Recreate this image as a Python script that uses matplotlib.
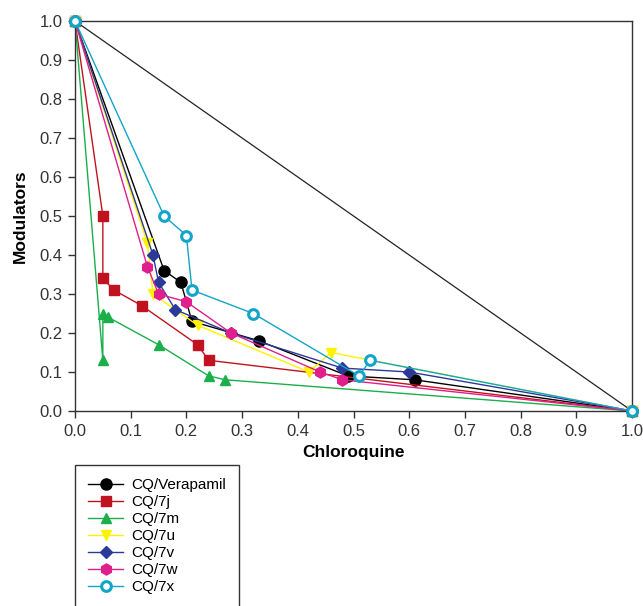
import matplotlib
matplotlib.use("Agg")
from matplotlib import pyplot as plt

plt.rcParams['font.family'] = ['Liberation Sans', 'DejaVu Sans']

# isobologram data (fractional inhibitory concentrations)
names = ["CQ/Verapamil", "CQ/7j", "CQ/7m", "CQ/7u", "CQ/7v", "CQ/7w", "CQ/7x"]

verapamil_x = [0, 0.16, 0.19, 0.21, 0.33, 0.49, 0.61, 1]
verapamil_y = [1, 0.36, 0.33, 0.23, 0.18, 0.09, 0.08, 0]

c7j_x = [0, 0.05, 0.05, 0.07, 0.12, 0.22, 0.24, 1]
c7j_y = [1, 0.50, 0.34, 0.31, 0.27, 0.17, 0.13, 0]

c7m_x = [0, 0.05, 0.05, 0.06, 0.15, 0.24, 0.27, 1]
c7m_y = [1, 0.13, 0.25, 0.24, 0.17, 0.09, 0.08, 0]

c7u_x = [0, 0.13, 0.14, 0.22, 0.42, 0.46, 1]
c7u_y = [1, 0.43, 0.30, 0.22, 0.10, 0.15, 0]

c7v_x = [0, 0.14, 0.15, 0.18, 0.28, 0.48, 0.60, 1]
c7v_y = [1, 0.40, 0.33, 0.26, 0.20, 0.11, 0.10, 0]

c7w_x = [0, 0.13, 0.15, 0.20, 0.28, 0.44, 0.48, 1]
c7w_y = [1, 0.37, 0.30, 0.28, 0.20, 0.10, 0.08, 0]

c7x_x = [0, 0.16, 0.20, 0.21, 0.32, 0.51, 0.53, 1]
c7x_y = [1, 0.50, 0.45, 0.31, 0.25, 0.09, 0.13, 0]

series = [(verapamil_x, verapamil_y), (c7j_x, c7j_y), (c7m_x, c7m_y),
          (c7u_x, c7u_y), (c7v_x, c7v_y), (c7w_x, c7w_y), (c7x_x, c7x_y)]
colors = ["#000000", "#c0131f", "#1aaf4b", "#fff200", "#2b3a98", "#e01e8c", "#12a5c9"]
markers = ["o", "s", "^", "v", "D", "h", "o"]
sizes = [8, 7, 7.5, 7.5, 6.5, 8, 7]

fig = plt.figure(figsize=(6.43, 6.06), dpi=100)
ax = fig.add_axes([75/643, 1-411/606, 557/643, 390/606])

# additivity line
ax.plot([0, 1], [1, 0], color="#222222", lw=0.9, zorder=1)

for (x, y), name, c, m, s in zip(series, names, colors, markers, sizes):
    if name == "CQ/7x":
        ax.plot(x, y, color=c, lw=1, marker=m, ms=s, mfc="white", mec=c, mew=2.2,
                label=name, clip_on=False, zorder=3)
    else:
        ax.plot(x, y, color=c, lw=1, marker=m, ms=s, mfc=c, mec=c,
                label=name, clip_on=False, zorder=2)

ax.set_xlim(0, 1)
ax.set_ylim(0, 1)
ticks = [0.0, 0.1, 0.2, 0.3, 0.4, 0.5, 0.6, 0.7, 0.8, 0.9, 1.0]
ax.set_xticks(ticks)
ax.set_yticks(ticks)
ax.set_xticklabels([f"{t:.1f}" for t in ticks])
ax.set_yticklabels([f"{t:.1f}" for t in ticks])
ax.tick_params(direction="out", length=5, width=1, labelsize=12, colors="#333333", pad=4)
for sp in ax.spines.values():
    sp.set_color("#333333")
    sp.set_linewidth(1)

ax.set_xlabel("Chloroquine", fontsize=12.5, fontweight="bold", labelpad=5)
ax.set_ylabel("Modulators", fontsize=12.5, fontweight="bold", labelpad=8)

leg = fig.legend(loc="upper left", bbox_to_anchor=(75/643, 1-465/606), fontsize=11,
                 frameon=True, fancybox=False, edgecolor="#333333", framealpha=1,
                 handlelength=2.3, handletextpad=0.5, labelspacing=0.2, borderpad=0.85,
                 borderaxespad=0)
leg.get_frame().set_linewidth(1)

fig.savefig("out.png", dpi=100)
